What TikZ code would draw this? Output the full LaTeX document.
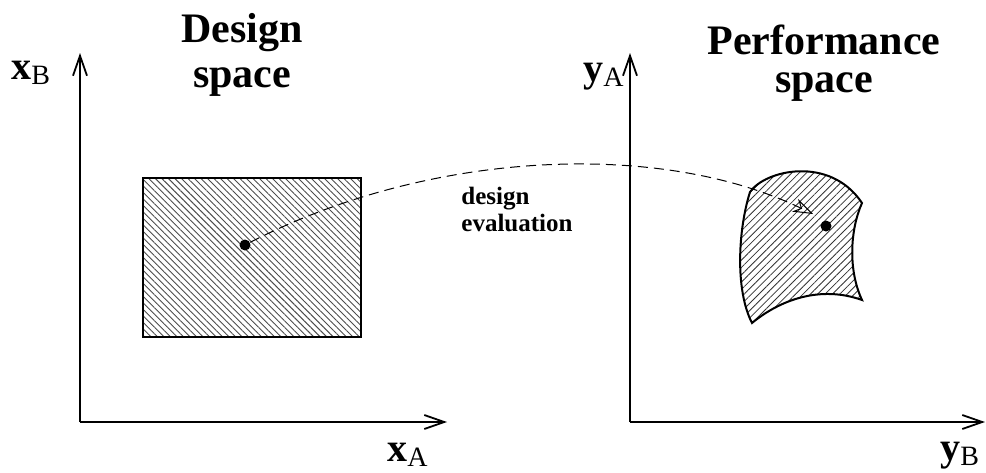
\documentclass[tikz,border=0pt]{standalone}
\usepackage{fontspec}
\setmainfont{Liberation Serif}
\usetikzlibrary{positioning, arrows.meta, patterns.meta}

\newcommand{\axlab}[2]{\textbf{#1}\raisebox{-2.5pt}{\fontsize{14}{14}\selectfont #2}}

\begin{document}
\begin{tikzpicture}[x=0.5pt, y=-0.5pt]
	\tikzset{
		axis/.style={line width=1pt, -{Straight Barb[length=10pt, width=7pt, line width=0.9pt]}},
		title/.style={align=center, inner sep=0pt, anchor=north},
		axlabel/.style={font=\fontsize{20}{20}\selectfont, inner sep=0pt, anchor=base west},
		dot/.style={circle, fill=black, minimum size=5.5pt, inner sep=0pt},
		hatchbox/.style={line width=1pt, pattern={Lines[angle=-45, distance=2.3pt, line width=0.45pt]}, pattern color=black!70},
		blob/.style={line width=1pt, pattern={Lines[angle=45, distance=2.6pt, line width=0.4pt]}, pattern color=black!80},
		evalarrow/.style={line width=0.5pt, dash pattern=on 5pt off 3pt, -{Stealth[open, length=10pt, width=7pt]}}
	}
	\useasboundingbox (0,0) rectangle (986,472);

	% design space
	\coordinate (oL) at (80,422);
	\coordinate (xAend) at (447,422);
	\coordinate (xBend) at (80,53);
	\draw[axis] (oL) -- (xAend);
	\draw[axis] (oL) -- (xBend);
	\node[axlabel] (xB) at (11,79) {\axlab{x}{B}};
	\node[axlabel] (xA) at (387,461) {\axlab{x}{A}};
	\node[title, font=\fontsize{21}{22.5}\selectfont\bfseries] (dtitle) at (242,13) {Design\\space};
	\draw[hatchbox] (143,178) rectangle (361,337);
	\node[dot] (src) at (245,245) {};

	% performance space
	\coordinate (oR) at (630,422);
	\coordinate (yBend) at (985,422);
	\coordinate (yAend) at (630,53);
	\draw[axis] (oR) -- (yBend);
	\draw[axis] (oR) -- (yAend);
	\node[axlabel] (yA) at (583,81) {\axlab{y}{A}};
	\node[axlabel] (yB) at (940,460) {\axlab{y}{B}};
	\node[title, font=\fontsize{21}{19}\selectfont\bfseries] (ptitle) at (824,25) {Performance\\space};
	\draw[blob] (750,192) .. controls (765,170) and (830,155) .. (862,203)
		.. controls (850,230) and (848,270) .. (862,300)
		.. controls (820,285) and (780,300) .. (752,323)
		.. controls (735,290) and (738,230) .. (750,192) -- cycle;
	\node[dot] (dst) at (826,226) {};

	% mapping
	\coordinate (tip) at (813,214);
	\draw[evalarrow] (src) .. controls (430,150) and (660,140) .. (tip);
	\node[font=\fontsize{12.5}{13.5}\selectfont\bfseries, align=left, anchor=north west, inner sep=0pt] (evallab) at (461,187) {design\\evaluation};
\end{tikzpicture}
\end{document}
